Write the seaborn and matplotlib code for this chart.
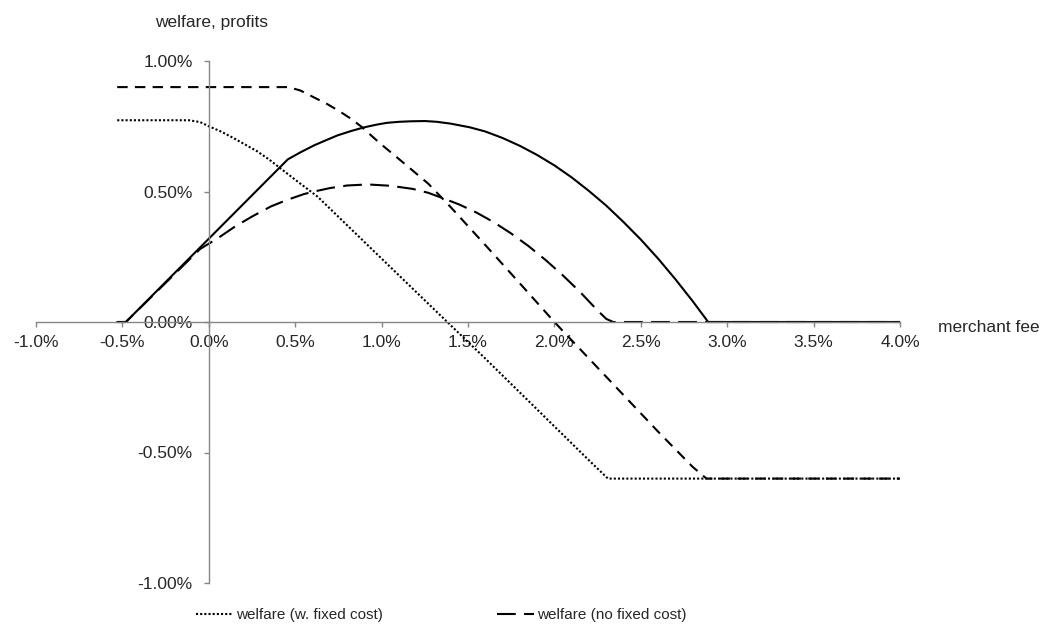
import matplotlib
matplotlib.use("Agg")
import matplotlib.pyplot as plt
import seaborn as sns
from matplotlib.ticker import PercentFormatter

# merchant fee (%) and curve values (%)
fee_w_fixed = [-0.53, -0.115, -0.05, 0.0, 0.07, 0.145, 0.21, 0.28, 0.35, 0.416, 0.53, 0.63,
               0.8, 1.0, 1.2, 1.38, 1.6, 1.8, 2.0, 2.2, 2.31, 4.0]
welfare_w_fixed = [0.773, 0.773, 0.766, 0.75, 0.73, 0.704, 0.68, 0.654, 0.622, 0.588, 0.53, 0.48,
                   0.371, 0.243, 0.115, 0.0, -0.14, -0.27, -0.4, -0.53, -0.6, -0.6]

fee_no_fixed = [-0.53, -0.48, -0.05, 0.05, 0.15, 0.25, 0.36, 0.45, 0.55, 0.61, 0.7, 0.8, 0.92,
                1.05, 1.18, 1.27, 1.36, 1.45, 1.55, 1.65, 1.75, 1.85, 1.95, 2.05, 2.15, 2.25,
                2.30, 2.34, 4.0]
welfare_no_fixed = [0.0, 0.0, 0.28, 0.32, 0.365, 0.404, 0.443, 0.467, 0.49, 0.50, 0.513, 0.523, 0.527,
                    0.522, 0.51, 0.495, 0.473, 0.45, 0.419, 0.382, 0.339, 0.291, 0.237, 0.178, 0.114, 0.044,
                    0.012, 0.0, 0.0]

fee_short = [-0.53, 0.46, 0.53, 0.61, 0.68, 0.75, 0.82, 0.88, 0.99, 1.13, 1.27, 1.40, 1.6, 1.8,
             2.0, 2.2, 2.4, 2.6, 2.8, 2.88, 4.0]
values_short = [0.9, 0.9, 0.887, 0.86, 0.837, 0.81, 0.78, 0.75, 0.685, 0.608, 0.53, 0.44, 0.295, 0.148,
                0.0, -0.14, -0.28, -0.42, -0.555, -0.6, -0.6]

fee_solid = [-0.53, -0.48, 0.457, 0.53, 0.61, 0.68, 0.745, 0.82, 0.90, 0.97, 1.03, 1.10, 1.17,
             1.25, 1.32, 1.40, 1.51, 1.6, 1.7, 1.8, 1.9, 2.0, 2.1, 2.2, 2.3, 2.4, 2.5, 2.6,
             2.7, 2.8, 2.89, 4.0]
values_solid = [0.0, 0.0, 0.623, 0.65, 0.677, 0.697, 0.715, 0.731, 0.746, 0.756, 0.763, 0.767, 0.769,
                0.77, 0.767, 0.76, 0.746, 0.73, 0.705, 0.675, 0.64, 0.60, 0.554, 0.502, 0.446, 0.383,
                0.316, 0.243, 0.164, 0.08, 0.0, 0.0]

x_ticks = [-1.0, -0.5, 0.0, 0.5, 1.0, 1.5, 2.0, 2.5, 3.0, 3.5, 4.0]
y_ticks = [-1.0, -0.5, 0.0, 0.5, 1.0]

sns.set_style("white")
plt.rcParams['font.family'] = ['Liberation Sans', 'DejaVu Sans']
plt.rcParams['axes.unicode_minus'] = False

fig = plt.figure(figsize=(10.48, 6.32), dpi=100)
ax = fig.add_axes([36 / 1048, 1 - 583 / 632, 864 / 1048, 522 / 632])

lw = 1.5
sns.lineplot(x=fee_w_fixed, y=welfare_w_fixed, ax=ax, color='black', linewidth=lw,
             linestyle=(0, (1, 1)), label='welfare (w. fixed cost)', legend=False)
sns.lineplot(x=fee_no_fixed, y=welfare_no_fixed, ax=ax, color='black', linewidth=lw,
             linestyle=(0, (9, 4)), label='welfare (no fixed cost)', legend=False)
sns.lineplot(x=fee_short, y=values_short, ax=ax, color='black', linewidth=lw,
             linestyle=(0, (5, 3.5)), legend=False)
sns.lineplot(x=fee_solid, y=values_solid, ax=ax, color='black', linewidth=lw,
             linestyle='-', legend=False)

ax.set_xlim(-1.0, 4.0)
ax.set_ylim(-1.0, 1.0)
ax.set_xticks(x_ticks)
ax.set_yticks(y_ticks)
ax.xaxis.set_major_formatter(PercentFormatter(xmax=100, decimals=1))
ax.yaxis.set_major_formatter(PercentFormatter(xmax=100, decimals=2))

axis_col = '#868686'
for side in ['top', 'right']:
    ax.spines[side].set_visible(False)
ax.spines['left'].set_position(('data', 0))
ax.spines['bottom'].set_position(('data', 0))
for side in ['left', 'bottom']:
    ax.spines[side].set_color(axis_col)
    ax.spines[side].set_linewidth(1.0)
ax.tick_params(axis='x', direction='out', length=3.5, width=1.0, color=axis_col,
               labelsize=12.5, pad=6, bottom=True)
ax.tick_params(axis='y', direction='out', length=3.5, width=1.0, color=axis_col,
               labelsize=12.5, pad=8, left=True)
ax.set_xlabel('')
ax.set_ylabel('')
ax.grid(False)

fig.text(212 / 1048, 1 - 22 / 632, 'welfare, profits', ha='center', va='center', fontsize=12.5)
fig.text(938 / 1048, 1 - 328 / 632, 'merchant fee', ha='left', va='center', fontsize=12.5)

handles = ax.lines[:2]
fig.legend(handles, ['welfare (w. fixed cost)', 'welfare (no fixed cost)'],
           loc='center left', bbox_to_anchor=(196 / 1048, 1 - 615 / 632), ncol=2,
           frameon=False, fontsize=11, handlelength=2.4, handletextpad=0.2,
           columnspacing=7.5, borderpad=0, borderaxespad=0)

fig.savefig('out.png', dpi=100)
